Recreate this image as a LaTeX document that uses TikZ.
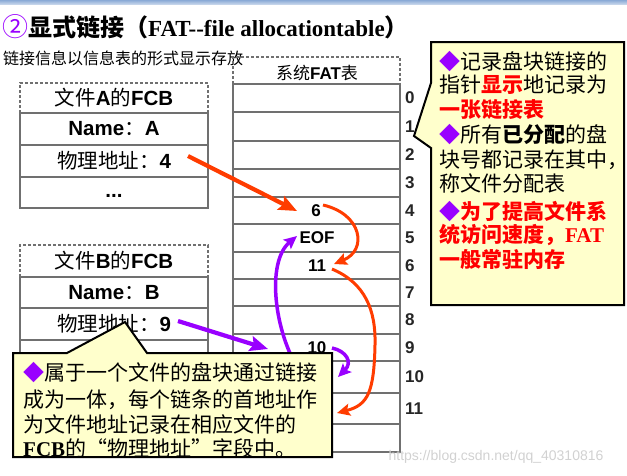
\documentclass[tikz,border=0pt]{standalone}
\usepackage{fontspec}
\setmainfont{Liberation Sans}
\newfontfamily\cjk{Noto Sans CJK SC}
\newfontfamily\tms{Liberation Serif}
\usetikzlibrary{arrows.meta}
\definecolor{purp}{HTML}{9900FF}
\definecolor{ored}{HTML}{FF3C00}
\definecolor{tgray}{HTML}{707070}
\definecolor{cyel}{HTML}{FFFFCC}
\definecolor{rred}{HTML}{FF0000}
\definecolor{bartop}{HTML}{8AAAD6}
\definecolor{barbot}{HTML}{C4D4EA}
\begin{document}
\begin{tikzpicture}[x=1pt,y=-1pt,
  lbl/.style={inner sep=0pt, anchor=west},
  cell/.style={inner sep=0pt},
  grid/.style={draw=tgray, line width=1.4pt},
  dgrid/.style={draw=tgray, line width=1.2pt, dash pattern=on 3pt off 2pt},
  tcell/.style={cell, font=\fontsize{20.5}{24}\selectfont},
  fent/.style={cell, font=\fontsize{17}{20}\selectfont\bfseries},
  idxl/.style={lbl, font=\fontsize{17}{20}\selectfont\bfseries, text=black!85},
  callout/.style={fill=cyel, draw=black, line width=2pt, line join=miter},
  ctext/.style={lbl, font=\fontsize{21}{25}\selectfont\cjk},
  oarrow/.style={draw=ored, line width=4.2pt, -{Stealth[length=18pt,width=15pt,inset=3pt]}},
  parrow/.style={draw=purp, line width=4.2pt, -{Stealth[length=18pt,width=15pt,inset=3pt]}},
  ocurve/.style={draw=ored, line width=3pt, -{Stealth[length=13pt,width=12pt,inset=2.5pt]}},
  pcurve/.style={draw=purp, line width=3.5pt, -{Stealth[length=13pt,width=12pt,inset=2.5pt]}}
]
\useasboundingbox (0,0) rectangle (627,475);
% top bar
\shade[top color=bartop, bottom color=barbot] (0,0) rectangle (627,4);
% title
\node[lbl] (title) at (2,27) {\fontsize{24}{28}\selectfont{\cjk\color{purp}\fontsize{26}{28}\selectfont ②}{\cjk\bfseries 显式链接（}{\tms\bfseries\fontsize{23}{28}\selectfont FAT--file allocationtable}{\cjk\bfseries ）}};
\node[lbl] (sub) at (3,58) {\fontsize{16}{19}\selectfont\cjk 链接信息以信息表的形式显示存放};

% FCB A
\draw[dgrid] (20,113) -- (20,83) -- (208,83) -- (208,113);
\draw[grid] (20,113) rectangle (208,208);
\draw[grid] (20,145) -- (208,145) (20,177) -- (208,177);
\node[tcell] (aH) at (114,98) {{\cjk 文件}\textbf{A}{\cjk 的}\textbf{FCB}};
\node[tcell] (aN) at (114,129) {\textbf{Name}{\cjk ：}\textbf{A}};
\node[tcell] (aP) at (114,161) {{\cjk 物理地址：}\textbf{4}};
\node[tcell] (aD) at (114,196) {\textbf{...}};

% FCB B
\draw[dgrid] (20,277) -- (20,245) -- (208,245) -- (208,277);
\draw[grid] (20,277) rectangle (208,372);
\draw[grid] (20,308) -- (208,308) (20,340) -- (208,340);
\node[tcell] (bH) at (114,261) {{\cjk 文件}\textbf{B}{\cjk 的}\textbf{FCB}};
\node[tcell] (bN) at (114,292.5) {\textbf{Name}{\cjk ：}\textbf{B}};
\node[tcell] (bP) at (114,324) {{\cjk 物理地址：}\textbf{9}};

% FAT table
\draw[dgrid] (233,84) -- (233,57) -- (400,57) -- (400,84);
\draw[grid] (233,84) rectangle (400,452);
\foreach \yy in {112,141,169,197,224,252,279,306,334,361,393,424}
  \draw[grid] (233,\yy) -- (400,\yy);
\node[cell, font=\fontsize{17}{20}\selectfont] (fH) at (317,73) {{\cjk 系统}\textbf{FAT}{\cjk 表}};
\node[fent] (f4) at (316,210.5) {6};
\node[fent] (f5) at (317,238) {EOF};
\node[fent] (f6) at (317,265.5) {11};
\node[fent] (f9) at (317,347.5) {10};
\foreach \i/\yy in {0/98,1/126.5,2/155,3/183,4/210.5,5/238,6/265.5,7/292.5,8/320,9/347.5,10/377,11/408.5}
  \node[idxl] (idx\i) at (405,\yy) {\i};

% connectors
\coordinate (aPo) at (188,156);
\coordinate (f4in) at (297,211);
\coordinate (f4o) at (323,205);
\coordinate (f6in) at (334,264);
\coordinate (f6o) at (332,269);
\coordinate (f11in) at (337,413);
\coordinate (bPo) at (178,321);
\coordinate (f9in) at (268,349);
\coordinate (f9o) at (332,348);
\coordinate (f10in) at (338,377);
\coordinate (f10o) at (300,372);
\coordinate (f5in) at (297,236);
\draw[oarrow] (aPo) -- (f4in);
\draw[ocurve] (f4o) .. controls (362,214) and (368,250) .. (f6in);
\draw[ocurve] (f6o) .. controls (365,283) and (376,310) .. (375,345) .. controls (374,392) and (368,405) .. (f11in);
\draw[parrow] (bPo) -- (f9in);
\draw[pcurve] (f9o) .. controls (346,351) and (353,362) .. (f10in);
\draw[pcurve] (f10o) .. controls (274,332) and (266,262) .. (f5in);

% right callout
\draw[callout] (431,42) -- (624,42) -- (624,305) -- (431,305) -- (431,148) -- (414,136) -- (431,83) -- cycle;
\node[ctext] (r1) at (439,62) {{\color{purp}◆}记录盘块链接的};
\node[ctext] (r2) at (439,85) {指针{\bfseries\color{rred}显示}地记录为};
\node[ctext] (r3) at (439,110) {{\bfseries\color{rred}一张链接表}};
\node[ctext] (r4) at (439,135) {{\color{purp}◆}所有{\bfseries 已分配}的盘};
\node[ctext] (r5) at (439,160) {块号都记录在其中，};
\node[ctext] (r6) at (439,183) {称文件分配表};
\node[ctext] (r7) at (439,212) {{\color{purp}◆}{\bfseries\color{rred}为了提高文件系}};
\node[ctext] (r8) at (439,235) {{\bfseries\color{rred}统访问速度，{\tms FAT}}};
\node[ctext] (r9) at (439,260) {{\bfseries\color{rred}一般常驻内存}};

% bottom callout
\draw[callout] (13,353) -- (67,353) -- (125,322) -- (147,353) -- (332,353) -- (332,457) -- (13,457) -- cycle;
\node[ctext] (b1) at (23,373) {{\color{purp}◆}属于一个文件的盘块通过链接};
\node[ctext] (b2) at (23,400) {成为一体，每个链条的首地址作};
\node[ctext] (b3) at (23,425) {为文件地址记录在相应文件的};
\node[ctext] (b4) at (23,448) {{\tms\bfseries FCB}的“物理地址”字段中。};

% watermark
\node[cell, font=\fontsize{14}{16}\selectfont, text=black!18] (wm) at (496,457) {https://blog.csdn.net/qq\_40310816};
\end{tikzpicture}
\end{document}
